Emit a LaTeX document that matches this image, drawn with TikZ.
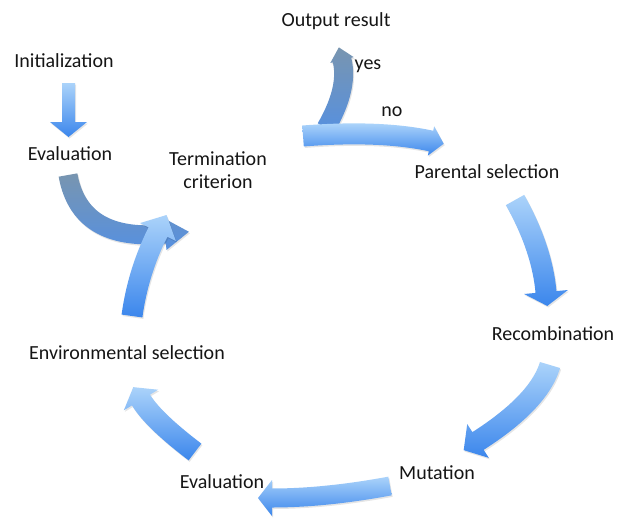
\documentclass[tikz,border=0pt]{standalone}
\usepackage{fontspec}
\setmainfont{Carlito}

\definecolor{lightb}{HTML}{ABD3FA}
\definecolor{darkb}{HTML}{3B86EC}
\definecolor{grayb}{HTML}{7895B0}
\definecolor{midb}{HTML}{5690E0}
\definecolor{txt}{HTML}{151515}

% Curved block arrow along a quadratic Bezier centre line.
% #1 style, #2,#3 tail centre, #4,#5 control point, #6,#7 head base centre,
% #8 half width of the shaft, #9 half width of the head; \hlen = head length.
\newcommand\bendarrow[9]{%
  \pgfmathsetmacro\ulen{veclen(#6-#4,#7-#5)}%
  \pgfmathsetmacro\ux{(#6-#4)/\ulen}%
  \pgfmathsetmacro\uy{(#7-#5)/\ulen}%
  \def\qx{((1-\t)*(1-\t)*#2+2*(1-\t)*\t*#4+\t*\t*#6)}%
  \def\qy{((1-\t)*(1-\t)*#3+2*(1-\t)*\t*#5+\t*\t*#7)}%
  \def\qdx{(2*(1-\t)*(#4-#2)+2*\t*(#6-#4))}%
  \def\qdy{(2*(1-\t)*(#5-#3)+2*\t*(#7-#5))}%
  \def\qd{veclen(\qdx,\qdy)}%
  \def\arrowoutline{plot[domain=0:1,samples=40,variable=\t]
      ({\qx-#8*\qdy/\qd},{\qy+#8*\qdx/\qd})
    -- ({#6-#9*\uy},{#7+#9*\ux})
    -- ({#6+\hlen*\ux},{#7+\hlen*\uy})
    -- ({#6+#9*\uy},{#7-#9*\ux})
    -- plot[domain=1:0,samples=40,variable=\t]
      ({\qx+#8*\qdy/\qd},{\qy-#8*\qdx/\qd})
    -- cycle}%
  \path[arrowshadow] \arrowoutline;
  \path[#1] \arrowoutline;
}

\tikzset{
  lbl/.style={font=\fontsize{20}{23}\selectfont, text=txt, inner sep=0pt,
              anchor=base, align=center},
  bluearrow/.style={top color=lightb, bottom color=darkb},
  grayarrow/.style={top color=grayb, bottom color=midb},
  arrowshadow/.style={fill=black, opacity=0.10, shift={(1,1.5)}},
}

\begin{document}
\begin{tikzpicture}[x=1pt, y=-1pt]
  \useasboundingbox[fill=white] (0,0) rectangle (617,525);

  % labels
  \node[lbl] (out)   at (336,26)  {Output result};
  \node[lbl] (yes)   at (368,69)  {yes};
  \node[lbl] (no)    at (392,116) {no};
  \node[lbl] (init)  at (64,67)   {Initialization};
  \node[lbl] (evala) at (70,160)  {Evaluation};
  \node[lbl] (term)  at (218,188) {Termination\\criterion};
  \node[lbl] (par)   at (487,178) {Parental selection};
  \node[lbl] (rec)   at (553,340) {Recombination};
  \node[lbl] (env)   at (127,359) {Environmental selection};
  \node[lbl] (evalb) at (222,488) {Evaluation};
  \node[lbl] (mut)   at (437,479) {Mutation};

  % straight arrow: initialization -> evaluation
  \path[arrowshadow] (62,83) -- (75,83) -- (75,122) -- (87,122) -- (68.5,137)
    -- (50,122) -- (62,122) -- cycle;
  \path[bluearrow] (62,83) -- (75,83) -- (75,122) -- (87,122) -- (68.5,137)
    -- (50,122) -- (62,122) -- cycle;

  % evaluation -> termination criterion
  \def\hlen{24}
  \bendarrow{grayarrow}{68}{175}{80}{242}{165}{234}{9.5}{16}
  % environmental selection -> termination criterion
  \def\hlen{19}
  \bendarrow{bluearrow}{132}{316}{138}{272}{158}{232}{10.5}{20}
  % yes -> output result
  \def\hlen{13}
  \bendarrow{grayarrow}{326}{128}{349}{88}{342}{60}{9.5}{12}
  % no -> parental selection
  \def\hlen{13}
  \bendarrow{bluearrow}{303}{136}{380}{130}{431}{141}{10.5}{15}
  % parental selection -> recombination
  \def\hlen{14}
  \bendarrow{bluearrow}{515}{200}{542}{248}{546}{292}{10.5}{22}
  % recombination -> mutation
  \def\hlen{17}
  \bendarrow{bluearrow}{550}{365}{539}{402}{478}{441}{10.5}{20}
  % mutation -> evaluation
  \def\hlen{14}
  \bendarrow{bluearrow}{390}{486}{325}{498}{272}{498}{9.5}{18}
  % evaluation -> environmental selection
  \def\hlen{15}
  \bendarrow{bluearrow}{195}{452}{153}{420}{141}{400}{10.5}{20}
\end{tikzpicture}
\end{document}
